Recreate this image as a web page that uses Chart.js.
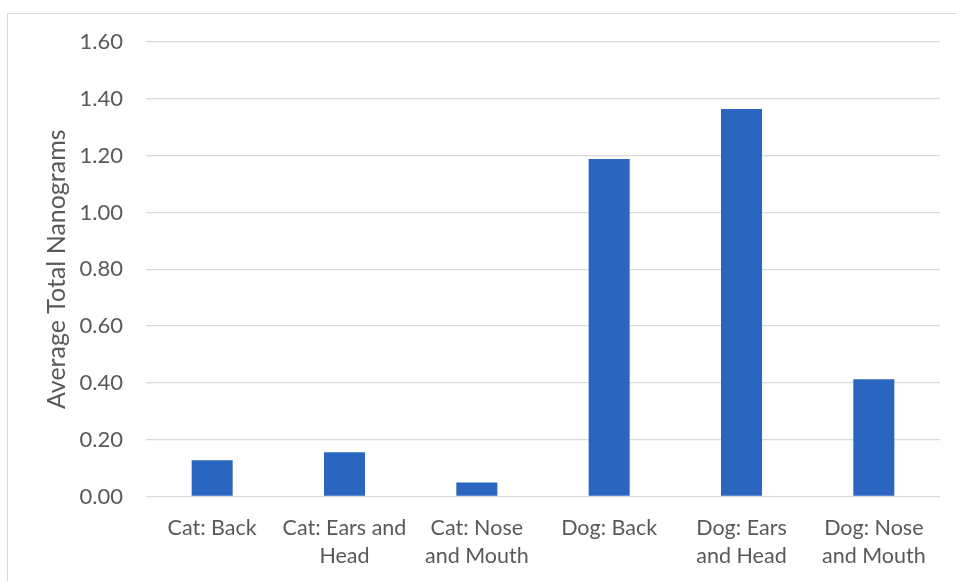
<!DOCTYPE html>
<html>
<head>
<meta charset="utf-8">
<script src="https://cdn.jsdelivr.net/npm/chart.js@4"></script>
<style>
  html, body { margin: 0; padding: 0; background: #fff; overflow: hidden; }
  .frame {
    position: absolute; left: 7px; top: 13px;
    width: 1000px; height: 700px;
    border: 1px solid #d9d9d9;
  }
  #chart { position: absolute; left: 0; top: 0; }
</style>
</head>
<body>
<div class="frame"></div>
<canvas id="chart" width="956" height="581"></canvas>
<script>
const categories = [
  ['Cat: Back'],
  ['Cat: Ears and', 'Head'],
  ['Cat: Nose', 'and Mouth'],
  ['Dog: Back'],
  ['Dog: Ears', 'and Head'],
  ['Dog: Nose', 'and Mouth']
];
const averageNanograms = [0.128, 0.156, 0.049, 1.188, 1.364, 0.413];
const yTicks = [0, 0.2, 0.4, 0.6, 0.8, 1.0, 1.2, 1.4, 1.6];

const textColor = '#595959';
const gridColor = '#d9d9d9';
const fontFamily = 'Lato, "Open Sans", sans-serif';

const ctx = document.getElementById('chart').getContext('2d');
new Chart(ctx, {
  type: 'bar',
  data: {
    labels: categories,
    datasets: [{
      label: 'Average Total Nanograms',
      data: averageNanograms,
      backgroundColor: '#2a66c0',
      borderWidth: 0,
      categoryPercentage: 1,
      barPercentage: 0.31
    }]
  },
  options: {
    responsive: false,
    animation: false,
    layout: { padding: { left: 0, top: 42, right: 16, bottom: 0 } },
    plugins: { legend: { display: false }, tooltip: { enabled: false } },
    scales: {
      x: {
        grid: { display: false },
        border: { display: false },
        ticks: {
          color: textColor,
          padding: 10,
          maxRotation: 0,
          autoSkip: false,
          font: { family: fontFamily, size: 21.5, lineHeight: 1.3 }
        },
        afterFit: (scale) => { scale.height = 581 - 496.5; }
      },
      y: {
        min: 0,
        max: 1.6,
        afterBuildTicks: (scale) => { scale.ticks = yTicks.map(v => ({ value: v })); },
        grid: { color: gridColor, lineWidth: 1.3, drawTicks: false },
        border: { display: false },
        ticks: {
          color: textColor,
          padding: 23,
          font: { family: fontFamily, size: 22 },
          callback: (v) => Number(v).toFixed(2)
        },
        title: {
          display: true,
          text: 'Average Total Nanograms',
          color: textColor,
          font: { family: fontFamily, size: 25, lineHeight: 1.2 },
          padding: { top: 42, bottom: 0 }
        },
        afterFit: (scale) => { scale.width = 146; }
      }
    }
  }
});
</script>
</body>
</html>
